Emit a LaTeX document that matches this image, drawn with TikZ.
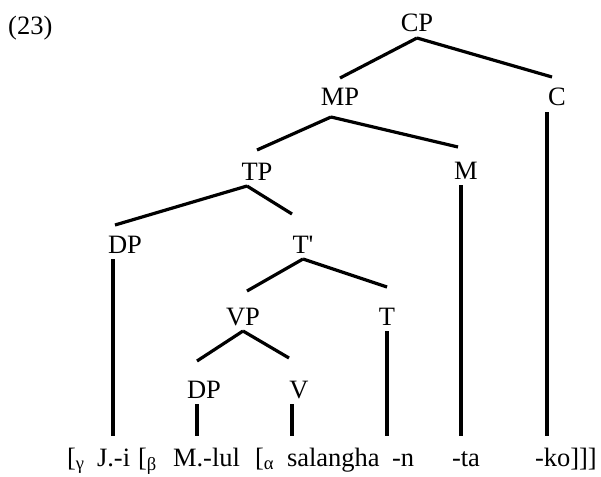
\documentclass[tikz,border=0pt]{standalone}
\usepackage{fontspec}
\setmainfont{Liberation Serif}
\tikzset{
  lbl/.style={anchor=base, inner sep=0pt, outer sep=6pt, text height=17pt, text depth=0pt},
  wrd/.style={anchor=base west, inner sep=0pt, outer xsep=0pt, outer ysep=11pt, text height=19pt, text depth=5pt},
  br/.style={line width=3.2pt}
}
\begin{document}
\begin{tikzpicture}[x=1pt, y=-1pt, font=\fontsize{26.5}{31}\selectfont]
    \useasboundingbox (0,0) rectangle (601,476);
    \node[anchor=base west, inner sep=0pt] (ex) at (8,35) {(23)};
    \node[lbl] (cp) at (417,32) {CP};
    \node[lbl] (mp) at (340,106) {MP};
    \node[lbl] (c) at (557,106) {C};
    \node[lbl] (tp) at (257,180) {TP};
    \node[lbl] (m) at (466,179) {M};
    \node[lbl] (dpa) at (125,253) {DP};
    \node[lbl] (tbar) at (303,253) {T\textquotesingle};
    \node[lbl] (vp) at (243,325) {VP};
    \node[lbl] (t) at (387,325) {T};
    \node[lbl] (dpb) at (204,398) {DP};
    \node[lbl] (v) at (299,398) {V};
    \node[wrd] (brg) at (67,466) {[\textsubscript{γ}};
    \node[wrd] (ji) at (97,466) {J.-i};
    \node[wrd] (brb) at (138,466) {[\textsubscript{β}};
    \node[wrd] (mlul) at (173,466) {M.-lul};
    \node[wrd] (bra) at (255,466) {[\textsubscript{α}};
    \node[wrd] (sal) at (287,466) {salangha};
    \node[wrd] (nn) at (392,466) {-n};
    \node[wrd] (ta) at (452,466) {-ta};
    \node[wrd] (ko) at (535,466) {-ko]]]};
    \draw[br] (cp.south) -- ([yshift=5pt]mp.north);
    \draw[br] (cp.south) -- ([shift={(-5pt,6pt)}]c.north);
    \draw[br] ([shift={(-9pt,-5pt)}]mp.south) -- ([yshift=7pt]tp.north);
    \draw[br] ([shift={(-9pt,-5pt)}]mp.south) -- ([shift={(-8pt,9pt)}]m.north);
    \draw[br] ([xshift=-10pt]tp.south) -- ([shift={(-10pt,5pt)}]dpa.north);
    \draw[br] ([xshift=-10pt]tp.south) -- ([shift={(-11pt,16pt)}]tbar.north);
    \draw[br] (tbar.south) -- ([shift={(4pt,11pt)}]vp.north);
    \draw[br] (tbar.south) -- ([yshift=15pt]t.north);
    \draw[br] (vp.south) -- ([shift={(-7pt,14pt)}]dpb.north);
    \draw[br] (vp.south) -- ([shift={(-10pt,17pt)}]v.north);
    \draw[br] ([xshift=-12pt]dpa.south) -- ([xshift=-12pt]dpa.south |- ji.north);
    \draw[br] ([xshift=-7pt]dpb.south) -- ([xshift=-7pt]dpb.south |- mlul.north);
    \draw[br] ([xshift=-7pt]v.south) -- ([xshift=-7pt]v.south |- sal.north);
    \draw[br] (t.south) -- (t.south |- nn.north);
    \draw[br] ([xshift=-5pt]m.south) -- ([xshift=-5pt]m.south |- ta.north);
    \draw[br] ([xshift=-10pt]c.south) -- ([xshift=-10pt]c.south |- ko.north);
\end{tikzpicture}
\end{document}
